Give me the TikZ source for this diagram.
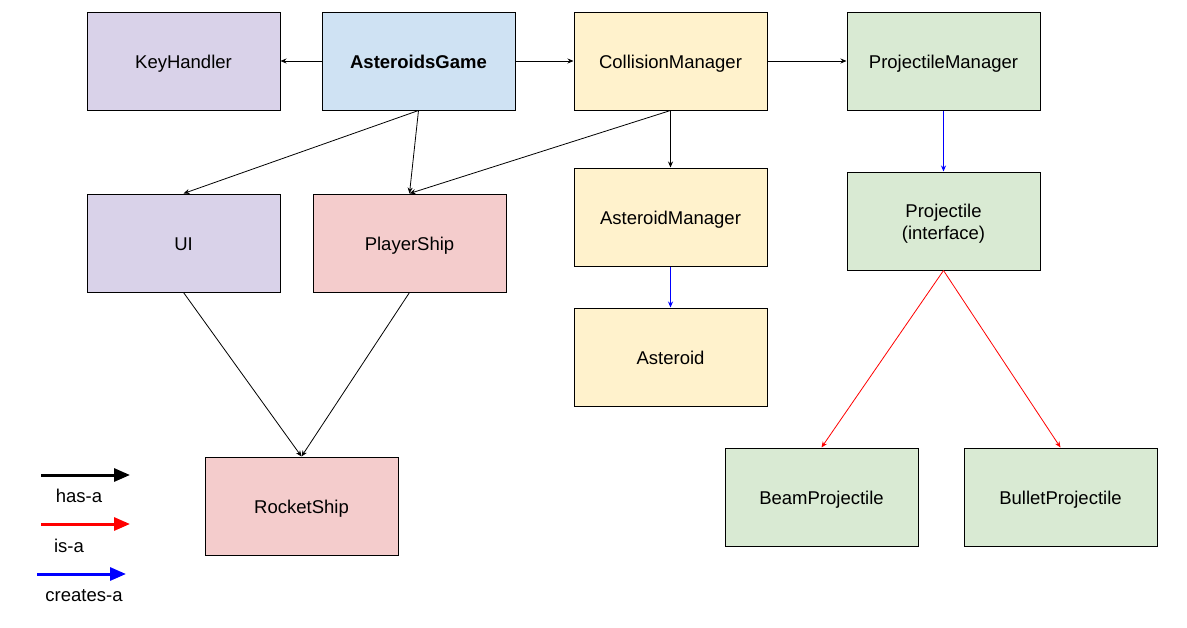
\documentclass[tikz,border=0pt]{standalone}
\usepackage{fontspec}
\setmainfont{Liberation Sans}
\usetikzlibrary{arrows.meta}
\definecolor{cblue}{HTML}{CFE2F3}
\definecolor{cyellow}{HTML}{FFF2CC}
\definecolor{cgreen}{HTML}{D9EAD3}
\definecolor{cpurple}{HTML}{D9D2E9}
\definecolor{cred}{HTML}{F4CCCC}
\tikzset{
  cls/.style={draw=black, line width=1pt, minimum width=193pt, minimum height=98pt, inner sep=0pt, font=\fontsize{18.5}{22}\selectfont, text height=14pt, text depth=0pt},
  hasa/.style={draw=black, line width=0.8pt, -{Stealth[length=6pt,width=5pt]}},
  isa/.style={draw=red, line width=0.8pt, -{Stealth[length=6pt,width=5pt]}},
  createsa/.style={draw=blue, line width=0.8pt, -{Stealth[length=6pt,width=5pt]}},
  leg/.style={line width=3pt, -{Triangle[length=16pt,width=13pt]}},
  legtext/.style={font=\fontsize{18.5}{22}\selectfont, inner sep=0pt}
}
\begin{document}
\begin{tikzpicture}[x=1pt,y=-1pt]
\useasboundingbox (0,0) rectangle (1187,627);
\node[cls, fill=cpurple] (key) at (183.5,61) {KeyHandler};
\node[cls, fill=cblue, font=\fontsize{18.5}{22}\selectfont\bfseries] (game) at (418.5,61) {AsteroidsGame};
\node[cls, fill=cyellow] (coll) at (670.5,61) {CollisionManager};
\node[cls, fill=cgreen] (pm) at (943.5,61) {ProjectileManager};
\node[cls, fill=cpurple] (ui) at (183.5,243) {UI};
\node[cls, fill=cred] (ps) at (409.5,243) {PlayerShip};
\node[cls, fill=cyellow] (am) at (670.5,217) {AsteroidManager};
\node[cls, fill=cgreen, text height=15pt, text depth=0pt] (proj) at (943.5,221) {\parbox{190pt}{\centering Projectile\\(interface)}};
\node[cls, fill=cyellow] (ast) at (670.5,357) {Asteroid};
\node[cls, fill=cred] (rs) at (301.5,506) {RocketShip};
\node[cls, fill=cgreen] (beam) at (821.5,497) {BeamProjectile};
\node[cls, fill=cgreen] (bullet) at (1060.5,497) {BulletProjectile};

\draw[hasa] (game.west) -- (key.east);
\draw[hasa] (game.east) -- (coll.west);
\draw[hasa] (coll.east) -- (pm.west);
\draw[hasa] (game.south) -- (ui.north);
\draw[hasa] (game.south) -- (ps.north);
\draw[hasa] (coll.south) -- (ps.north);
\draw[hasa] (coll.south) -- (am.north);
\draw[createsa] (pm.south) -- (proj.north);
\draw[createsa] (am.south) -- (ast.north);
\draw[hasa] (ui.south) -- (rs.north);
\draw[hasa] (ps.south) -- (rs.north);
\draw[isa] (proj.south) -- (beam.north);
\draw[isa] (proj.south) -- (bullet.north);

\coordinate (l1a) at (41,475); \coordinate (l1b) at (130,475);
\coordinate (l2a) at (41,524); \coordinate (l2b) at (130,524);
\coordinate (l3a) at (37,574); \coordinate (l3b) at (126,574);
\draw[leg, black] (l1a) -- (l1b);
\draw[leg, red] (l2a) -- (l2b);
\draw[leg, blue] (l3a) -- (l3b);
\node[legtext] (t1) at (79,496) {has-a};
\node[legtext] (t2) at (69,546) {is-a};
\node[legtext] (t3) at (84,596) {creates-a};
\end{tikzpicture}
\end{document}
